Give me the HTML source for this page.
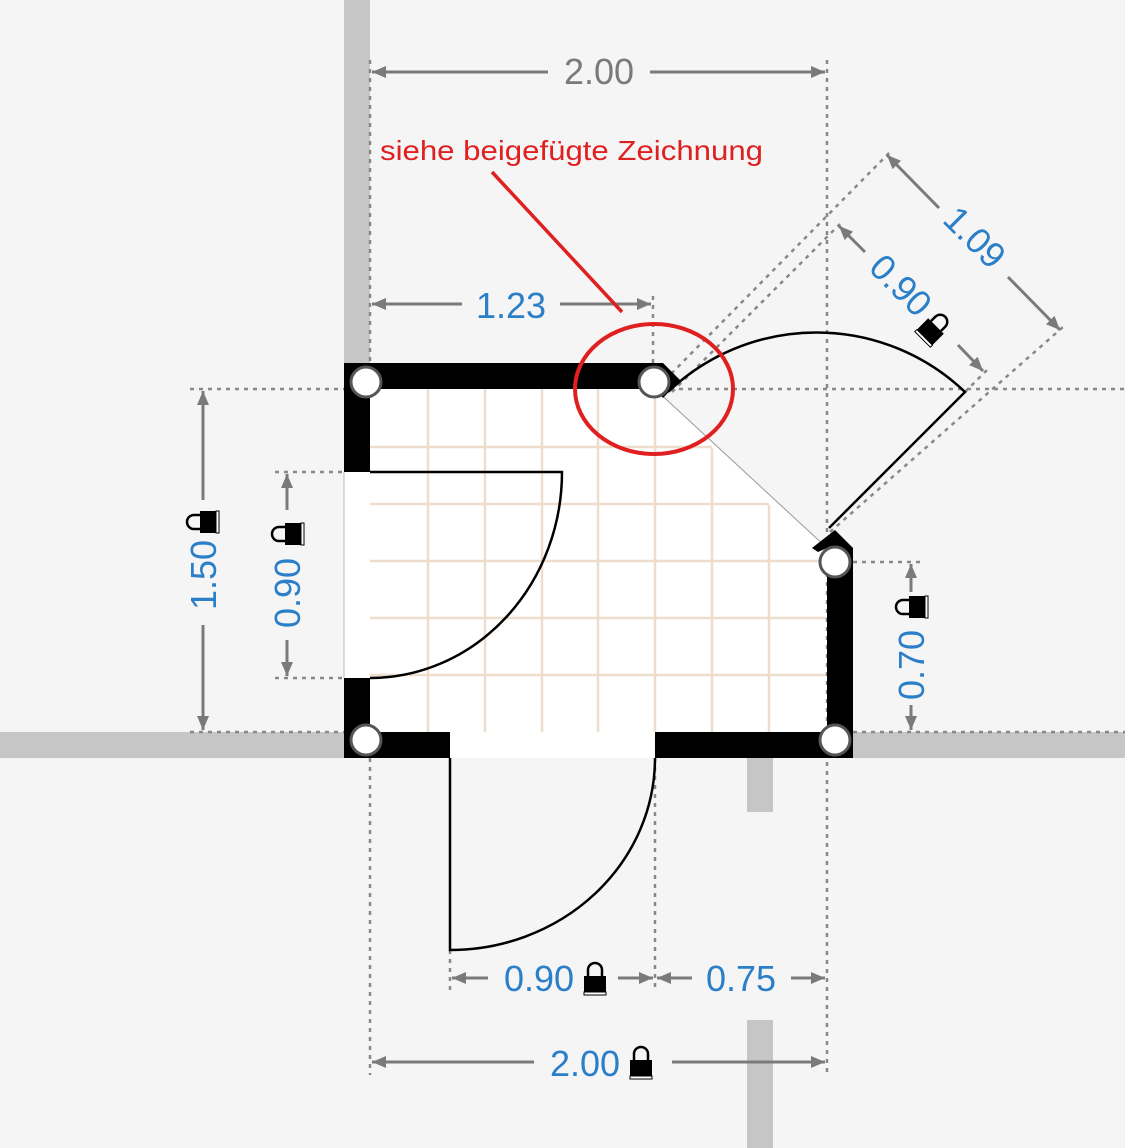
<!DOCTYPE html>
<html><head><meta charset="utf-8"><style>
html,body{margin:0;padding:0;background:#f5f5f5;}
svg{display:block}
text{font-family:"Liberation Sans",sans-serif;}
</style></head><body>
<svg width="1125" height="1148" viewBox="0 0 1125 1148" xmlns="http://www.w3.org/2000/svg">
<defs>
<marker id="a" viewBox="0 0 14 12" refX="14" refY="6" markerWidth="14" markerHeight="12" markerUnits="userSpaceOnUse" orient="auto-start-reverse"><path d="M0,0L14,6L0,12z" fill="#7a7a7a"/></marker>
<g id="lock"><path d="M-7,0 V-6 A7,7 0 0 1 7,-6 V0" fill="none" stroke="#000" stroke-width="2.5"/><rect x="-11" y="0" width="22" height="18" fill="#000"/><rect x="-11" y="16" width="22" height="3" fill="#fff" stroke="#000" stroke-width="1"/></g>
</defs>
<rect width="1125" height="1148" fill="#f5f5f5"/>
<g fill="#c6c6c6">
<rect x="344" y="0" width="26" height="370"/>
<rect x="0" y="732" width="346" height="26"/>
<rect x="853" y="732" width="272" height="26"/>
<rect x="747" y="758" width="26" height="54"/>
<rect x="747" y="1020" width="26" height="128"/>
</g>
<polygon points="370,389 655,389 827,548 827,732 370,732" fill="#fff"/>
<g stroke="#eedccd" stroke-width="2.5">
<line x1="428" y1="389" x2="428" y2="732"/><line x1="485" y1="389" x2="485" y2="732"/><line x1="542" y1="389" x2="542" y2="732"/><line x1="598" y1="389" x2="598" y2="732"/><line x1="655" y1="389" x2="655" y2="732"/><line x1="712" y1="448" x2="712" y2="732"/><line x1="769" y1="505" x2="769" y2="732"/>
<line x1="370" y1="447" x2="712" y2="447"/><line x1="370" y1="504" x2="769" y2="504"/><line x1="370" y1="561" x2="827" y2="561"/><line x1="370" y1="618" x2="827" y2="618"/><line x1="370" y1="675" x2="827" y2="675"/>
</g>
<line x1="655" y1="389" x2="827" y2="548" stroke="#999" stroke-width="1"/>
<g stroke="#888" stroke-width="2.5" stroke-dasharray="4,5" fill="none">
<line x1="370" y1="60" x2="370" y2="363"/>
<line x1="827" y1="60" x2="827" y2="1075"/>
<line x1="653" y1="296" x2="653" y2="365"/>
<line x1="190" y1="389" x2="344" y2="389"/>
<line x1="190" y1="732" x2="344" y2="732"/>
<line x1="275" y1="472" x2="344" y2="472"/>
<line x1="275" y1="678" x2="344" y2="678"/>
<line x1="670" y1="389" x2="1125" y2="389"/>
<line x1="853" y1="562" x2="920" y2="562"/>
<line x1="853" y1="732" x2="1125" y2="732"/>
<line x1="370" y1="758" x2="370" y2="1075"/>
<line x1="450" y1="950" x2="450" y2="990"/>
<line x1="655" y1="758" x2="655" y2="990"/>
<line x1="665" y1="380" x2="890" y2="152"/>
<line x1="672" y1="392" x2="840" y2="224"/>
<line x1="965" y1="392" x2="987" y2="370"/>
<line x1="830" y1="532" x2="1063" y2="327"/>
</g>
<g stroke="#7a7a7a" stroke-width="3" fill="none">
<line x1="372" y1="72" x2="548" y2="72" marker-start="url(#a)"/><line x1="650" y1="72" x2="825" y2="72" marker-end="url(#a)"/>
<line x1="372" y1="304" x2="462" y2="304" marker-start="url(#a)"/><line x1="560" y1="304" x2="651" y2="304" marker-end="url(#a)"/>
<line x1="203" y1="391" x2="203" y2="500" marker-start="url(#a)"/><line x1="203" y1="625" x2="203" y2="730" marker-end="url(#a)"/>
<line x1="287" y1="474" x2="287" y2="510" marker-start="url(#a)"/><line x1="287" y1="640" x2="287" y2="676" marker-end="url(#a)"/>
<line x1="911" y1="564" x2="911" y2="592" marker-start="url(#a)"/><line x1="911" y1="705" x2="911" y2="730" marker-end="url(#a)"/>
<line x1="452" y1="978" x2="488" y2="978" marker-start="url(#a)"/><line x1="618" y1="978" x2="653" y2="978" marker-end="url(#a)"/>
<line x1="657" y1="978" x2="692" y2="978" marker-start="url(#a)"/><line x1="791" y1="978" x2="825" y2="978" marker-end="url(#a)"/>
<line x1="372" y1="1062" x2="534" y2="1062" marker-start="url(#a)"/><line x1="672" y1="1062" x2="825" y2="1062" marker-end="url(#a)"/>
<line x1="887" y1="155" x2="939" y2="208" marker-start="url(#a)"/><line x1="1008" y1="277" x2="1060" y2="330" marker-end="url(#a)"/>
<line x1="839" y1="226" x2="865" y2="252" marker-start="url(#a)"/><line x1="958" y1="345" x2="983" y2="371" marker-end="url(#a)"/>
</g>
<g fill="#000">
<rect x="344" y="363" width="26" height="109"/>
<rect x="344" y="678" width="26" height="80"/>
<polygon points="344,363 663,363 680,380 663,398 655,389 344,389"/>
<rect x="344" y="732" width="106" height="26"/>
<rect x="655" y="732" width="198" height="26"/>
<polygon points="827,548 827,758 853,758 853,548 835,530 812,548 818,552"/>
</g>
<rect x="344" y="472" width="26" height="206" fill="#fff"/>
<line x1="344" y1="472" x2="344" y2="678" stroke="#bbb" stroke-width="1"/>
<rect x="450" y="732" width="205" height="26" fill="#fff"/>
<g stroke="#000" stroke-width="2.5" fill="none">
<path d="M370,472 H562 A192,206 0 0 1 370,678"/>
<path d="M450,758 V950 A205,192 0 0 0 655,758"/>
<path d="M668,392 A215,215 0 0 1 965,392 L829,528"/>
</g>
<g fill="#fff" stroke="#555" stroke-width="3">
<circle cx="366" cy="382" r="15"/><circle cx="654" cy="382" r="15"/><circle cx="835" cy="562" r="15"/><circle cx="366" cy="740" r="15"/><circle cx="835" cy="740" r="15"/>
</g>
<g font-size="36" text-anchor="middle">
<text x="599" y="84" fill="#7a7a7a">2.00</text>
<text x="511" y="318" fill="#2a7fc8">1.23</text>
<text x="539" y="991" fill="#2a7fc8">0.90</text>
<text x="741" y="991" fill="#2a7fc8">0.75</text>
<text x="585" y="1076" fill="#2a7fc8">2.00</text>
<text transform="translate(216,575) rotate(-90)" fill="#2a7fc8">1.50</text>
<text transform="translate(300,593) rotate(-90)" fill="#2a7fc8">0.90</text>
<text transform="translate(924,665) rotate(-90)" fill="#2a7fc8">0.70</text>
<text transform="translate(966,246) rotate(45)" fill="#2a7fc8">1.09</text>
<text transform="translate(892,294) rotate(45)" fill="#2a7fc8">0.90</text>
</g>
<use href="#lock" transform="translate(595,976)"/>
<use href="#lock" transform="translate(641,1060)"/>
<use href="#lock" transform="translate(200,522) rotate(-90)"/>
<use href="#lock" transform="translate(285,534) rotate(-90)"/>
<use href="#lock" transform="translate(909,607) rotate(-90)"/>
<use href="#lock" transform="translate(936,326) rotate(45)"/>
<text x="380" y="160" font-size="28" fill="#e02020" textLength="383" lengthAdjust="spacingAndGlyphs">siehe beigefügte Zeichnung</text>
<line x1="492" y1="172" x2="622" y2="312" stroke="#e02020" stroke-width="3.5"/>
<ellipse cx="654" cy="389" rx="79" ry="65" fill="none" stroke="#e02020" stroke-width="4"/>
</svg>
</body></html>
